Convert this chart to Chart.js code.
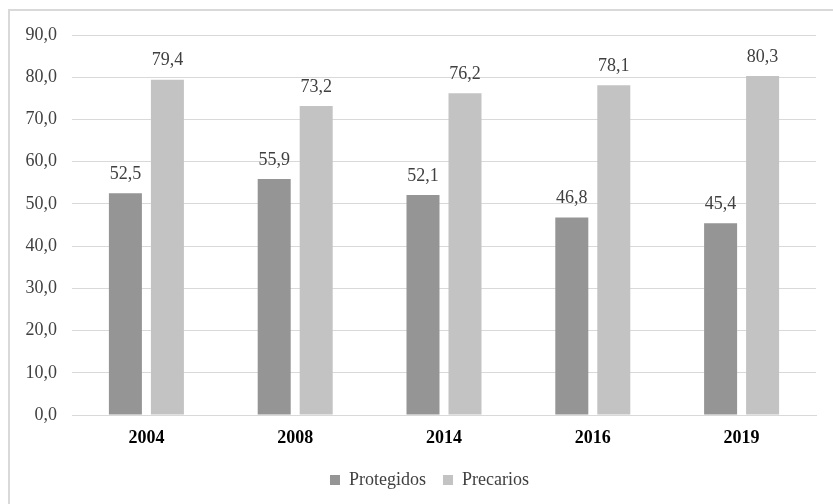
<!DOCTYPE html>
<html lang="es">
<head>
<meta charset="UTF-8">
<script src="https://cdn.jsdelivr.net/npm/chart.js"></script>
<style>
  html, body { margin: 0; padding: 0; background: #fff; }
  #wrap { width: 833px; height: 504px; }
</style>
</head>
<body>
<div id="wrap"><canvas id="myChart" width="833" height="504"></canvas></div>
<script>
  // datos
  const years = ['2004', '2008', '2014', '2016', '2019']
  const protegidos = [52.5, 55.9, 52.1, 46.8, 45.4]
  const precarios = [79.4, 73.2, 76.2, 78.1, 80.3]

  const serif = "'Liberation Serif', 'Times New Roman', serif"
  const fmt = v => v.toFixed(1).replace('.', ',')

  // marco exterior del grafico
  const frame = {
    id: 'frame',
    beforeDraw(chart) {
      const c = chart.ctx
      c.save()
      c.strokeStyle = '#d9d9d9'
      c.lineWidth = 2
      c.strokeRect(9, 10, 830, 510)
      c.restore()
    }
  }

  // la leyenda se centra bajo el area de barras, no bajo todo el lienzo
  const legendShift = {
    id: 'legendShift',
    afterLayout(chart) {
      const lg = chart.legend
      if (!lg) return
      lg.left += 43
      lg.width = lg.right - lg.left
    }
  }

  // valores encima de cada barra
  const valueLabels = {
    id: 'valueLabels',
    afterDatasetsDraw(chart) {
      const c = chart.ctx
      c.save()
      c.font = '18px ' + serif
      c.fillStyle = '#404040'
      c.textAlign = 'center'
      c.textBaseline = 'bottom'
      chart.data.datasets.forEach((ds, i) => {
        chart.getDatasetMeta(i).data.forEach((bar, j) => {
          c.fillText(fmt(ds.data[j]), bar.x, bar.y - 10)
        })
      })
      c.restore()
    }
  }

  new Chart(document.getElementById('myChart'), {
    type: 'bar',
    data: {
      labels: years,
      datasets: [
        { label: 'Protegidos', data: protegidos, backgroundColor: '#959595' },
        { label: 'Precarios', data: precarios, backgroundColor: '#c3c3c3' }
      ]
    },
    options: {
      responsive: false,
      animation: false,
      categoryPercentage: 0.5645,
      barPercentage: 0.786,
      layout: { padding: { left: 0, right: 17, top: 35, bottom: 5 } },
      scales: {
        x: {
          afterFit(scale) { scale.height = 39 },
          grid: { display: false, drawTicks: false },
          border: { color: '#d9d9d9', width: 1 },
          ticks: { color: '#000', padding: 13, font: { family: serif, size: 18, weight: 'bold' } }
        },
        y: {
          min: 0,
          max: 90,
          afterFit(scale) { scale.width = 72 },
          grid: { color: '#d9d9d9', drawTicks: false },
          border: { display: false },
          ticks: {
            stepSize: 10,
            padding: 15,
            color: '#404040',
            font: { family: serif, size: 18 },
            callback: v => fmt(v)
          }
        }
      },
      plugins: {
        tooltip: { enabled: false },
        legend: {
          position: 'bottom',
          labels: {
            boxWidth: 10,
            boxHeight: 10,
            padding: 17,
            color: '#404040',
            font: { family: serif, size: 18 }
          }
        }
      }
    },
    plugins: [frame, legendShift, valueLabels]
  })
</script>
</body>
</html>
